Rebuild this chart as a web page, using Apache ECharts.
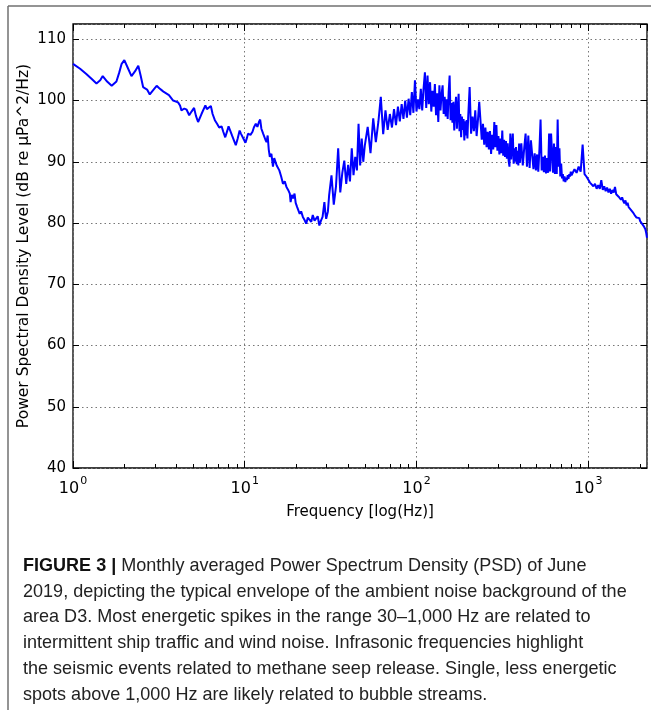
<!DOCTYPE html>
<html>
<head>
<meta charset="utf-8">
<script src="https://cdn.jsdelivr.net/npm/echarts@6/dist/echarts.min.js"></script>
<style>
html,body{margin:0;padding:0;background:#fff;}
#chart{width:651px;height:710px;}
</style>
</head>
<body>
<div id="chart"></div>
<script>
// ---- data ----
const freqLow = [1.00,1.10,1.20,1.30,1.37,1.44,1.49,1.58,1.68,1.79,1.86,1.92,1.99,2.08,2.19,2.30,2.40,2.48,2.56,2.70,2.80,2.87,2.97,3.07,3.18,3.28,3.38,3.47,3.62,3.83,4.09,4.20,4.28,4.45,4.59,4.75,4.90,5.07,5.20,5.35,5.60,5.90,6.02,6.12,6.35,6.50,6.70,6.90,7.10,7.33,7.50,7.70,7.90,8.05,8.25,8.43,8.65,8.87,9.10,9.34,9.50,9.68,9.90,10.1,10.3,10.45,10.8,11.1,11.3,11.6,11.85,12.1,12.3,12.5,12.8,13.0,13.2,13.4,13.6,13.8,14.0,14.3,14.6,14.85,15.1,15.35,15.6,15.9,16.3,16.7,17.1,17.5,17.9,18.3,18.5,18.8,19.1,19.5,19.8,20.2,20.5,20.9,21.3,21.8,22.3,22.8,23.3,23.9,24.4,24.9,25.5,26.0,26.6,27.2,27.8,28.4,29.1,29.5,29.8,30.5];
const psdLow = [106.0,105.2,104.3,103.4,102.8,103.3,104.0,103.1,102.4,103.1,104.6,106.0,106.6,105.4,104.0,104.8,105.7,104.0,102.2,101.8,101.0,100.8,101.9,102.4,102.0,101.7,101.4,101.7,100.9,100.0,99.7,99.2,98.4,98.7,98.5,97.6,98.2,98.8,97.5,96.5,97.8,99.2,98.6,98.4,99.1,97.8,96.8,96.2,95.6,95.8,94.9,94.0,95.0,95.8,95.0,94.3,93.5,92.7,93.8,95.1,94.6,94.3,93.6,93.1,93.9,94.6,94.4,94.9,95.6,96.2,95.7,96.5,96.9,95.4,94.6,94.3,93.6,93.2,94.3,92.0,90.8,91.3,89.2,90.6,90.5,89.4,89.7,88.6,87.6,86.4,86.8,85.9,85.4,84.8,83.4,84.6,84.0,84.8,83.3,82.6,82.9,81.5,81.9,81.0,80.5,79.9,80.9,80.7,80.2,81.3,80.4,80.5,81.1,79.6,80.4,81.0,83.4,81.6,80.7,81.9];

const freqMid = [31,32,33,34,35,36,37,38,39,40,41,42,43,44,45,46,47,48,49,50,
  52,54,56,58,60,62,64,66,68,70,72,74,76,78,80,82,84,86,88,90,92,94,96,98,100,
  102,104,106,108,110,112,114,116,118,120,122,124,126,128,130,132,134,136,138,140,142,144,146,148,150,
  152,154,156,158,160,162,164,166,168,170,172,174,176,178,180,182,184,186,188,190,192,194,196,198,200];
const psdMid = [84.5,87.8,83.0,86.0,92.2,85.0,88.2,90.2,86.4,89.5,86.8,92.2,87.8,90.8,88.6,96.2,89.4,93.8,90.0,92.6,
  95.7,91.4,97.1,93.2,96.5,100.6,94.5,98.4,95.2,97.8,95.6,98.6,96.0,99.0,96.6,99.4,97.0,100.0,97.2,100.3,97.6,101.4,98.0,103.3,98.2,
  100.2,98.6,101.9,98.4,102.0,104.6,98.8,104.1,99.4,103.0,98.2,101.6,99.0,102.7,97.6,101.2,96.5,102.5,98.4,101.0,102.5,97.8,100.6,97.4,100.2,
  97.0,101.4,104.1,96.8,99.6,96.4,99.8,95.1,98.6,100.6,95.4,98.4,101.1,95.0,97.8,94.0,97.4,95.2,97.0,93.5,96.6,94.3,96.8,93.8,97.2];

const freqHigh = [204,208,212,216,220,224,228,232,236,240,244,248,252,256,260,264,268,272,276,280,284,288,292,296,300,304,308,312,316,320,324,328,332,336,340,344,348,352,356,360,364,368,372,376,380,384,388,392,396,400,
  408,416,424,432,440,448,456,464,472,480,488,496,504,512,520,528,536,544,552,560,568,576,584,592,600,608,616,624,632,640,648,656,664,672,680,688,696,704,712,720,728,736,744,752,760,768,776,784,792,800,
  832,856,880,904,928,952,976,1000,1024,1048,1072,1096,1120,1144,1168,1192,1216,1240,1264,1288,1312,1336,1360,1384,1408,1432,1456,1480,1504,1528,1552,1576,1600,
  1624,1648,1672,1696,1720,1744,1768,1792,1816,1840,1864,1888,1912,1936,1960,1984,2008,2032,2056,2080,2104,2128,2152,2176,2200];
const psdHigh = [102.2,94.6,97.4,95.0,98.4,94.2,96.8,99.8,99.6,93.6,96.2,92.8,95.6,92.4,94.9,92.0,95.0,91.3,94.4,92.0,96.5,92.4,96.0,91.8,94.2,91.2,93.8,91.4,95.1,91.0,93.6,90.8,93.4,90.5,93.0,90.2,89.2,94.6,90.4,92.6,94.6,89.7,92.2,90.0,92.4,89.6,91.8,89.4,93.0,89.8,
  93.0,89.4,92.2,94.6,89.2,94.3,89.0,93.5,93.8,88.8,91.4,88.6,91.2,88.4,92.0,96.9,88.6,90.8,88.3,91.0,88.1,90.6,88.2,94.6,88.4,94.6,94.9,88.2,93.0,88.0,92.4,88.0,96.9,89.2,92.2,87.6,89.7,87.3,88.0,86.8,87.6,86.7,87.4,87.0,87.8,87.2,88.0,87.6,88.4,87.8,
  88.8,88.2,89.2,88.4,92.8,88.0,87.6,87.4,86.6,86.9,86.0,86.4,85.6,86.2,85.6,87.0,85.4,86.0,85.2,85.8,85.0,85.6,84.8,85.4,85.0,85.9,84.7,85.0,84.3,84.6,83.8,84.2,83.6,
  83.2,83.7,82.9,83.3,82.6,82.9,82.2,82.4,81.8,81.9,81.3,81.5,80.9,81.1,80.6,80.8,80.3,80.4,79.9,80.1,79.5,79.6,79.0,78.4,77.6];

const xMin = 1, xMax = 2200;
const yMin = 40, yMax = 112.5, yStep = 10;
const minorTicks = [2,3,4,5,6,7,8,9,20,30,40,50,60,70,80,90,200,300,400,500,600,700,800,900,2000];

const xTitle = 'Frequency [log(Hz)]';
const yTitle = 'Power Spectral Density Level (dB re µPa^2/Hz)';
const captionLines = [
  '{b|FIGURE 3 |} Monthly averaged Power Spectrum Density (PSD) of June',
  '2019, depicting the typical envelope of the ambient noise background of the',
  'area D3. Most energetic spikes in the range 30–1,000 Hz are related to',
  'intermittent ship traffic and wind noise. Infrasonic frequencies highlight',
  'the seismic events related to methane seep release. Single, less energetic',
  'spots above 1,000 Hz are likely related to bubble streams.'
];

// ---- chart ----
const seriesData = [];
freqLow.forEach((f, i) => seriesData.push([f, psdLow[i]]));
freqMid.forEach((f, i) => seriesData.push([f, psdMid[i]]));
freqHigh.forEach((f, i) => seriesData.push([f, psdHigh[i]]));

const FONT = '"DejaVu Sans", sans-serif';
const CAP_FONT = '"Liberation Sans", Arial, sans-serif';
const tickStyle = {color: '#000', width: 1};
const gridLine = {color: '#777', type: [1.5, 3], width: 1};

function logAxis(pos, opts) {
  return Object.assign({
    type: 'log', logBase: 10, min: xMin, max: xMax, position: pos, gridIndex: 0,
    axisLine: {show: false},
    axisTick: {show: true, inside: true, length: 7, lineStyle: tickStyle},
    axisLabel: {show: false},
    splitLine: {show: false},
    minorTick: {show: false}
  }, opts);
}

const chart = echarts.init(document.getElementById('chart'), null, {renderer: 'canvas'});
const option = {
  animation: false,
  backgroundColor: '#fff',
  grid: {left: 73, right: 4, top: 24, bottom: 242, show: true, borderColor: '#000', borderWidth: 1.3, backgroundColor: 'transparent', containLabel: false},
  xAxis: [
    logAxis('bottom', {
      name: xTitle, nameLocation: 'middle', nameGap: 37,
      nameTextStyle: {fontFamily: FONT, fontSize: 15, color: '#000'},
      axisLabel: {
        show: true, margin: 8, showMaxLabel: false, showMinLabel: true,
        formatter: v => '{b|10}{s|' + Math.round(Math.log10(v)) + '}',
        rich: {
          b: {fontFamily: FONT, fontSize: 16, color: '#000', verticalAlign: 'bottom', lineHeight: 21},
          s: {fontFamily: FONT, fontSize: 11, color: '#000', verticalAlign: 'top', lineHeight: 21, padding: [0, 0, 0, 1]}
        }
      },
      splitLine: {show: true, lineStyle: gridLine}
    }),
    logAxis('top', {}),
    logAxis('bottom', {axisTick: {show: true, inside: true, length: 4, lineStyle: tickStyle, customValues: minorTicks}}),
    logAxis('top', {axisTick: {show: true, inside: true, length: 4, lineStyle: tickStyle, customValues: minorTicks}})
  ],
  yAxis: [
    {
      type: 'value', min: yMin, max: yMax, interval: yStep, position: 'left',
      name: yTitle, nameLocation: 'middle', nameGap: 41, nameRotate: 90, nameMoveOverlap: false,
      nameTextStyle: {fontFamily: FONT, fontSize: 15.5, color: '#000'},
      axisLine: {show: false},
      axisTick: {show: true, inside: true, length: 6, lineStyle: tickStyle},
      axisLabel: {show: true, margin: 7, showMaxLabel: false, fontFamily: FONT, fontSize: 15, color: '#000'},
      splitLine: {show: true, lineStyle: gridLine}
    },
    {
      type: 'value', min: yMin, max: yMax, interval: yStep, position: 'right',
      axisLine: {show: false},
      axisTick: {show: true, inside: true, length: 6, lineStyle: tickStyle},
      axisLabel: {show: false},
      splitLine: {show: false}
    }
  ],
  series: [{
    type: 'line', xAxisIndex: 0, yAxisIndex: 0,
    data: seriesData, showSymbol: false, symbol: 'none',
    lineStyle: {color: '#0000ff', width: 2},
    clip: true, z: 5
  }],
  graphic: [
    {type: 'line', shape: {x1: 8, y1: 6, x2: 651, y2: 6}, style: {stroke: '#707070', lineWidth: 1.5}, silent: true},
    {type: 'line', shape: {x1: 8, y1: 6, x2: 8, y2: 710}, style: {stroke: '#707070', lineWidth: 1.5}, silent: true}
  ].concat(captionLines.map((t, i) => ({
    type: 'text', x: 23, y: 566 + i * 25.7, scaleX: 0.975, originX: 0,
    style: {
      text: t, fill: '#222', fontFamily: CAP_FONT, fontSize: 18.5,
      verticalAlign: 'middle', align: 'left',
      rich: {b: {fontWeight: 'bold', fontFamily: CAP_FONT, fontSize: 18.5, fill: '#111'}}
    },
    silent: true
  })))
};
chart.setOption(option);
</script>
</body>
</html>
